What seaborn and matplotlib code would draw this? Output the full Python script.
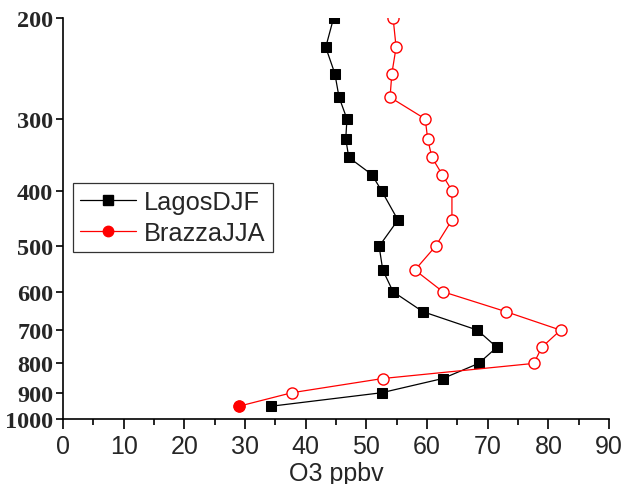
import matplotlib
matplotlib.use("Agg")
import matplotlib.pyplot as plt
import seaborn as sns
import pandas as pd
from matplotlib.lines import Line2D
from matplotlib.ticker import MultipleLocator, NullLocator, FixedLocator

pressure = [200, 225, 250, 275, 300, 325, 350, 375, 400, 450,
            500, 550, 600, 650, 700, 750, 800, 850, 900, 950]
lagos_djf = [44.6, 43.3, 44.8, 45.5, 46.8, 46.6, 47.1, 50.9, 52.5, 55.2,
             52.1, 52.7, 54.4, 59.3, 68.3, 71.5, 68.5, 62.6, 52.5, 34.3]
brazza_jja = [54.4, 54.9, 54.2, 53.9, 59.7, 60.1, 60.8, 62.5, 64.1, 64.1,
              61.4, 58.0, 62.6, 73.0, 82.0, 78.9, 77.6, 52.7, 37.7, 29.0]
yticks = [200, 300, 400, 500, 600, 700, 800, 900, 1000]
xticks = [0, 10, 20, 30, 40, 50, 60, 70, 80, 90]

sns.set_theme(style="white")
plt.rcParams['font.family'] = ['Liberation Sans', 'DejaVu Sans']

fig = plt.figure(figsize=(6.26, 4.85), dpi=100)
ax = fig.add_axes([0.1006, 0.134, 0.8724, 0.827])

df_l = pd.DataFrame({"x": lagos_djf, "p": pressure})
df_b = pd.DataFrame({"x": brazza_jja, "p": pressure})

sns.lineplot(data=df_l, x="x", y="p", sort=False, estimator=None, ax=ax,
             color="black", lw=0.9, marker="s", markersize=7,
             markerfacecolor="black", markeredgecolor="black")
sns.lineplot(data=df_b, x="x", y="p", sort=False, estimator=None, ax=ax,
             color="red", lw=0.9, marker="o", markersize=8,
             markerfacecolor="white", markeredgecolor="red", markeredgewidth=1)
sns.scatterplot(x=brazza_jja[-1:], y=pressure[-1:], ax=ax, color="red",
                s=64, edgecolor="red", zorder=5)

ax.set_yscale("log")
ax.set_ylim(1000, 200)
ax.set_xlim(0, 90)
ax.yaxis.set_major_locator(FixedLocator(yticks))
ax.yaxis.set_minor_locator(NullLocator())
ax.set_yticklabels([str(t) for t in yticks], fontfamily="Liberation Serif",
                   fontweight="bold", fontsize=17.5)
ax.set_xticks(xticks)
ax.xaxis.set_minor_locator(MultipleLocator(5))
ax.set_xticklabels([str(t) for t in xticks], fontsize=18)
ax.set_xlabel("O3 ppbv", fontsize=18, labelpad=2)
ax.set_ylabel("")

for s in ["top", "right"]:
    ax.spines[s].set_visible(False)
for s in ["left", "bottom"]:
    ax.spines[s].set_color("black")
    ax.spines[s].set_linewidth(1.2)

ax.tick_params(axis="y", which="major", direction="out", length=5, width=1.2,
               left=True, color="black", pad=2)
ax.tick_params(axis="x", which="major", direction="out", length=7, width=1.2,
               bottom=True, color="black", pad=4)
ax.tick_params(axis="x", which="minor", direction="out", length=4, width=1.2,
               bottom=True, color="black")

handles = [
    Line2D([], [], color="black", lw=0.9, marker="s", markersize=6.5,
           markerfacecolor="black", markeredgecolor="black"),
    Line2D([], [], color="red", lw=0.9, marker="o", markersize=7.5,
           markerfacecolor="red", markeredgecolor="red"),
]
leg = ax.legend(handles, ["LagosDJF", "BrazzaJJA"], loc="upper left",
                bbox_to_anchor=(0.018, 0.589), fontsize=18.3, frameon=True,
                fancybox=False, handlelength=2.2, handletextpad=0.3,
                borderpad=0.3, labelspacing=0.25, borderaxespad=0)
leg.get_frame().set_edgecolor("black")
leg.get_frame().set_linewidth(0.9)

fig.savefig("out.png", dpi=100)
